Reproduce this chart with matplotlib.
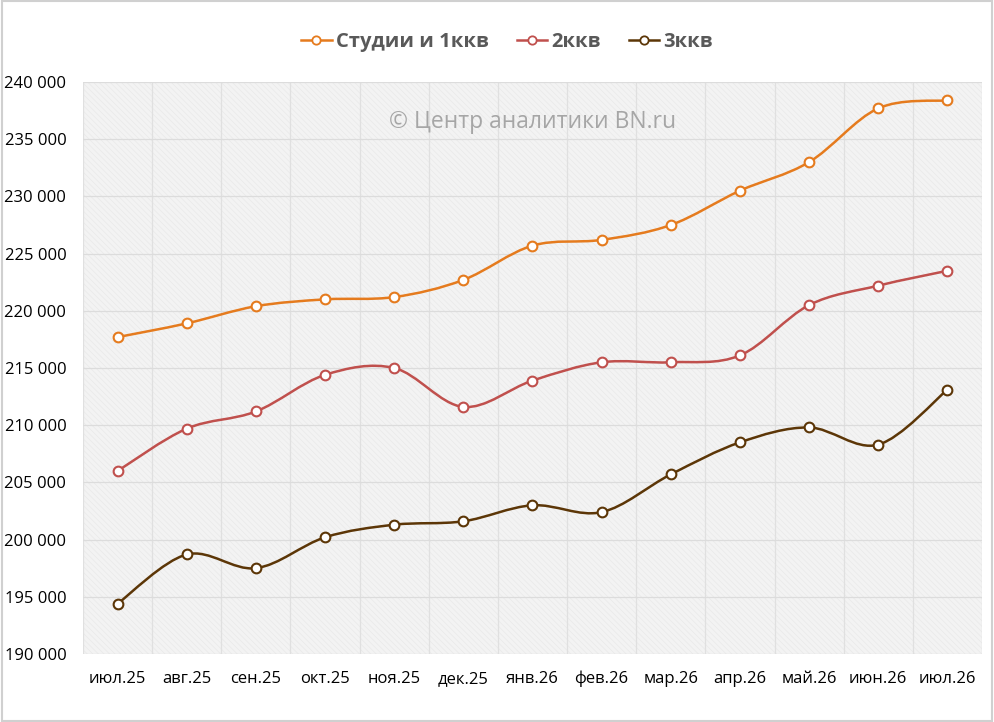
import numpy as np
import matplotlib
matplotlib.use('Agg')
import matplotlib.pyplot as plt
from matplotlib.path import Path
from matplotlib.patches import PathPatch, Rectangle
from matplotlib.lines import Line2D
from matplotlib.ticker import FuncFormatter, MultipleLocator

plt.rcParams['font.family'] = ['Open Sans', 'DejaVu Sans']
plt.rcParams['hatch.linewidth'] = 0.5

# ==========================================
# Данные
# ==========================================
months = ['июл.25', 'авг.25', 'сен.25', 'окт.25', 'ноя.25', 'дек.25', 'янв.26',
          'фев.26', 'мар.26', 'апр.26', 'май.26', 'июн.26', 'июл.26']
studio_1k = [217700, 218900, 220400, 221000, 221200, 222700, 225700,
             226200, 227500, 230500, 233000, 237700, 238400]
flat_2k = [206000, 209700, 211200, 214400, 215000, 211600, 213900,
           215500, 215500, 216100, 220500, 222200, 223500]
flat_3k = [194400, 198700, 197500, 200200, 201300, 201600, 203000,
           202400, 205700, 208500, 209800, 208300, 213100]

series = [
    ('Студии и 1ккв', studio_1k, '#E57B1E'),
    ('2ккв', flat_2k, '#C0504D'),
    ('3ккв', flat_3k, '#5C3607'),
]


def smooth_path(xs, ys):
    # сглаживание как в Excel (Catmull-Rom -> Bezier)
    pts = np.column_stack([xs, ys]).astype(float)
    n = len(pts)
    verts = [pts[0]]
    codes = [Path.MOVETO]
    for i in range(n - 1):
        p0 = pts[i - 1] if i > 0 else pts[i]
        p1 = pts[i]
        p2 = pts[i + 1]
        p3 = pts[i + 2] if i + 2 < n else pts[i + 1]
        c1 = p1 + (p2 - p0) / 6.0
        c2 = p2 - (p3 - p1) / 6.0
        verts += [c1, c2, p2]
        codes += [Path.CURVE4] * 3
    return Path(verts, codes)


fig = plt.figure(figsize=(9.94, 7.22), dpi=100)
ax = fig.add_axes([0.0835, 0.0942, 0.9044, 0.7922])

# фон с мелкой штриховкой
ax.set_facecolor('#f3f3f3')
bg = Rectangle((0, 0), 1, 1, transform=ax.transAxes, facecolor='none',
               edgecolor='#e9e9e9', hatch='\\\\\\\\\\\\', lw=0, zorder=0)
ax.add_patch(bg)

x = np.arange(len(months))
for name, vals, col in series:
    ax.add_patch(PathPatch(smooth_path(x, vals), facecolor='none', edgecolor=col,
                           lw=1.8, zorder=3, capstyle='round'))
    ax.plot(x, vals, linestyle='none', marker='o', markersize=7,
            markerfacecolor='white', markeredgecolor=col, markeredgewidth=1.5, zorder=4)

ax.set_xlim(-0.5, len(months) - 0.5)
ax.set_ylim(190000, 240000)
ax.yaxis.set_major_locator(MultipleLocator(5000))
ax.yaxis.set_major_formatter(FuncFormatter(lambda v, p: f'{v:,.0f}'.replace(',', ' ')))
ax.set_xticks(x)
ax.set_xticklabels(months)
ax.set_xticks(np.arange(-0.5, len(months)), minor=True)

ax.grid(axis='y', which='major', color='#dcdcdc', lw=0.9)
ax.grid(axis='x', which='minor', color='#e0e0e0', lw=0.9)
ax.set_axisbelow(True)
for s in ax.spines.values():
    s.set_visible(False)
ax.tick_params(axis='both', which='both', length=0, labelsize=12, colors='black')
ax.tick_params(axis='x', pad=12)
ax.tick_params(axis='y', pad=12)

ax.text(0.5, 0.93, '© Центр аналитики BN.ru', transform=ax.transAxes,
        ha='center', va='center', fontsize=16.5, color='#a6a6a6', zorder=5)

handles = [Line2D([], [], color=col, lw=1.8, marker='o', markersize=6,
                  markerfacecolor='white', markeredgecolor=col, markeredgewidth=1.3)
           for _, _, col in series]
leg = fig.legend(handles, [s[0] for s in series], loc='center', ncol=3,
                 bbox_to_anchor=(0.51, 0.942), frameon=False, handlelength=1.5,
                 handletextpad=0.2, columnspacing=1.4,
                 prop={'weight': 'bold', 'size': 14.5})
for t in leg.get_texts():
    t.set_color('#595959')

fig.add_artist(Rectangle((0.002, 0.002), 0.996, 0.996, transform=fig.transFigure,
                         facecolor='none', edgecolor='#d0d0d0', lw=1.5))

fig.savefig('out.png', dpi=100)
